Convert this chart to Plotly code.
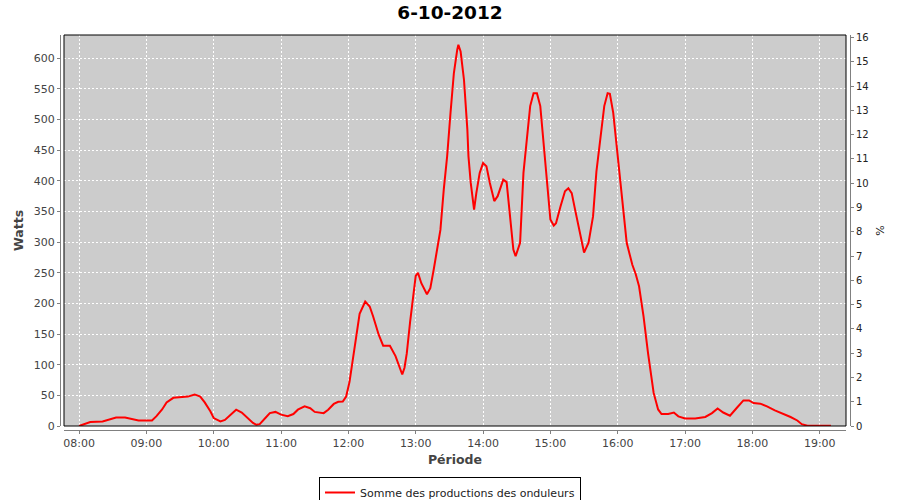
import plotly.graph_objects as go

# ---- data ----
times = ["08:00","08:10","08:21","08:27","08:33","08:41","08:47","08:53","09:05","09:09",
         "09:14","09:18","09:24","09:33","09:37","09:43","09:48","09:52","09:57","10:00",
         "10:06","10:10","10:15","10:20","10:25","10:31","10:35","10:38","10:41","10:46",
         "10:50","10:55","11:00","11:06","11:11","11:15","11:21","11:26","11:30","11:38",
         "11:42","11:47","11:51","11:55","11:58","12:01","12:04","12:07","12:10","12:15",
         "12:19","12:22","12:27","12:31","12:37","12:42","12:45","12:48","12:50","12:52",
         "12:55","12:58","13:00","13:02","13:05","13:10","13:13","13:16","13:19","13:22",
         "13:25","13:28","13:31","13:34","13:37","13:38","13:40","13:43","13:46","13:47",
         "13:49","13:52","13:54","13:57","14:00","14:03","14:06","14:10","14:13","14:17",
         "14:18","14:21","14:24","14:27","14:29","14:33","14:36","14:39","14:42","14:45",
         "14:48","14:51","14:54","14:57","15:00","15:03","15:05","15:09","15:13","15:16",
         "15:19","15:22","15:27","15:30","15:34","15:38","15:41","15:44","15:48","15:51",
         "15:53","15:56","15:59","16:02","16:05","16:08","16:13","16:16","16:19","16:23",
         "16:27","16:32","16:36","16:39","16:45","16:50","16:54","17:00","17:09","17:18",
         "17:24","17:29","17:34","17:40","17:46","17:52","17:57","18:01","18:07","18:13",
         "18:20","18:28","18:34","18:40","18:44","18:49","19:10"]
watts = [0, 6.5, 7.5, 11, 14, 14, 11, 9, 9, 16,
         27, 38.5, 46, 47, 48, 51.5, 48, 38.5, 24, 13,
         7.5, 10, 19, 26.6, 22, 11, 5, 2, 3, 13,
         21, 23, 18.5, 16, 19.5, 26.6, 32, 29, 23, 21,
         26.6, 36, 39.6, 40, 48, 72, 110, 150, 183, 203,
         195, 179, 149, 131, 131, 114, 100, 84, 95, 118,
         170, 222, 245, 250, 233, 215, 225, 255, 288, 320,
         386, 440, 511, 576, 614, 622, 611, 565, 484, 440,
         397, 353, 380, 413, 429, 424, 397, 367, 375, 397,
         402, 398, 342, 288, 277, 299, 413, 473, 522, 543,
         543, 522, 456, 391, 337, 327, 331, 358, 383, 388,
         380, 353, 309, 283, 299, 342, 415, 465, 522, 543,
         542, 511, 456, 402, 342, 299, 263, 248, 228, 179,
         119, 54, 27, 19.5, 19.5, 22, 15.7, 12.4, 12.4, 14.7,
         21, 28.7, 22, 16.8, 29.4, 41.8, 41.8, 37.5, 36.4, 32,
         25.5, 20, 14.7, 9, 3, 0.5, 0.5]

day = "2012-10-06"
series_name = "Somme des productions des onduleurs"
title_text = "6-10-2012"
x_title = "Période"
y_title = "Watts"
y2_title = "%"
x_range = [day + " 07:46:36", day + " 19:23:24"]
y_range = [0, 638]
y2_range = [0, 16.1]

x_vals = [day + " " + t for t in times]

# ---- geometry ----
W, H = 900, 500
ml, mr, mt, mb = 60, 50, 35, 70
pw, ph = W - ml - mr, H - mt - mb
off = 4
xd = [off / pw, (pw - off) / pw]
yd = [off / ph, 1]

axis_gray = "#808080"
tick_font = dict(family="DejaVu Sans", size=11, color="#444444")
title_font = dict(family="DejaVu Sans", size=12.5, color="#444444")

fig = go.Figure()
fig.add_trace(go.Scatter(
    x=x_vals, y=watts, mode="lines", name=series_name,
    line=dict(color="#ff0000", width=2), showlegend=True,
))
# empty companion trace so the percentage axis is drawn
fig.add_trace(go.Scatter(x=[], y=[], yaxis="y2", showlegend=False, hoverinfo="skip"))

fig.update_layout(
    width=W, height=H,
    margin=dict(l=ml, r=mr, t=mt, b=mb, pad=0, autoexpand=False),
    paper_bgcolor="white",
    plot_bgcolor="#cccccc",
    title=dict(text="<b>" + title_text + "</b>", x=0.5, xref="container", xanchor="center",
               y=1 - 13 / H, yref="container", yanchor="middle",
               font=dict(family="DejaVu Sans", size=18.5, color="black")),
    xaxis=dict(
        domain=xd, anchor="free", position=0, automargin=False,
        type="date", range=x_range,
        tick0=day + " 08:00", dtick=3600000, tickformat="%H:%M",
        showgrid=True, gridcolor="white", gridwidth=1, griddash="2px,2px",
        showline=True, linecolor=axis_gray, linewidth=1,
        ticks="outside", ticklen=3, tickcolor=axis_gray, tickfont=tick_font,
        title=dict(text="<b>" + x_title + "</b>", font=title_font, standoff=6),
        zeroline=False,
    ),
    yaxis=dict(
        domain=yd, anchor="free", position=0, side="left", automargin=False,
        range=y_range, tick0=0, dtick=50,
        showgrid=True, gridcolor="white", gridwidth=1, griddash="2px,2px",
        showline=True, linecolor=axis_gray, linewidth=1,
        ticks="outside", ticklen=3, tickcolor=axis_gray, tickfont=tick_font,
        title=dict(text="<b>" + y_title + "</b>", font=title_font, standoff=6),
        zeroline=False,
    ),
    yaxis2=dict(
        domain=yd, anchor="free", position=1, side="right", overlaying="y", automargin=False,
        range=y2_range, tick0=0, dtick=1,
        showgrid=False,
        showline=True, linecolor=axis_gray, linewidth=1,
        ticks="outside", ticklen=3, tickcolor=axis_gray,
        tickfont=dict(family="DejaVu Sans", size=10, color="#222222"),
        title=dict(text=y2_title, font=dict(family="DejaVu Sans", size=11, color="#222222"), standoff=8),
        zeroline=False,
    ),
    legend=dict(
        orientation="h", x=450 / W, xanchor="center", xref="container",
        y=1 - 477 / H, yanchor="top", yref="container",
        bordercolor="black", borderwidth=1, bgcolor="white",
        font=dict(family="DejaVu Sans", size=11, color="#222222"),
        itemwidth=30,
    ),
    shapes=[dict(type="rect", xref="paper", yref="paper",
                 x0=xd[0], x1=xd[1], y0=yd[0], y1=yd[1],
                 line=dict(color="black", width=1), layer="above")],
)

fig.write_html("out.html",
               config={"displayModeBar": False},
               post_script="document.body.style.margin='0';document.body.style.padding='0';")
